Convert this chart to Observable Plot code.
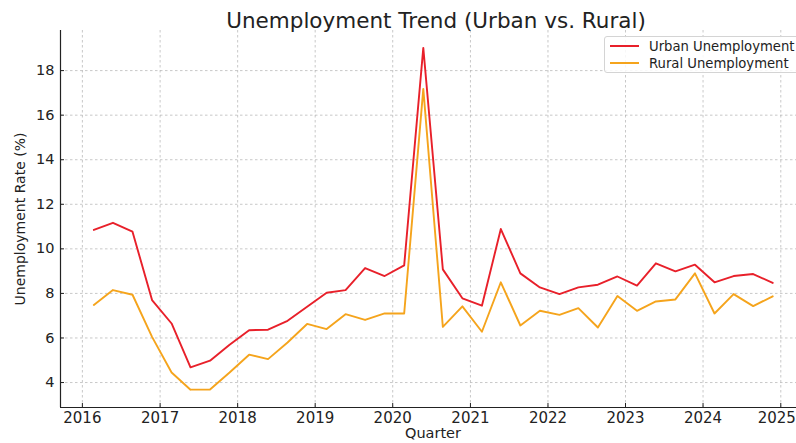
<!DOCTYPE html>
<html><head><meta charset="utf-8">
<script src="https://cdn.jsdelivr.net/npm/d3@7"></script>
<script src="https://cdn.jsdelivr.net/npm/@observablehq/plot@0.6"></script>
<style>
body{margin:0;background:#fff;font-family:"DejaVu Sans",sans-serif;}
#wrap{position:relative;width:796px;height:443px;overflow:hidden;}
#title{position:absolute;left:0;width:872px;top:10px;text-align:center;font-size:21.5px;color:#222;line-height:22px;white-space:nowrap;}
#ylab{position:absolute;left:20px;top:219px;transform:translate(-50%,-50%) rotate(-90deg);font-size:14px;color:#222;white-space:nowrap;}
#xlab{position:absolute;left:0;width:866px;top:424px;text-align:center;font-size:14.5px;color:#222;line-height:18px;}
#legend{position:absolute;left:604px;top:36px;width:210px;height:35px;border:1px solid #d4d4d4;border-radius:3px;background:rgba(255,255,255,0.85);font-size:13.2px;color:#222;}
.li{position:absolute;left:5px;height:16px;display:flex;align-items:center;white-space:nowrap;}
.li span.sw{display:inline-block;width:29px;height:2px;margin-right:10px;}
svg{display:block}
</style></head>
<body>
<div id="wrap">
  <div id="chart"></div>
  <div id="title">Unemployment Trend (Urban vs. Rural)</div>
  <div id="ylab">Unemployment Rate (%)</div>
  <div id="xlab">Quarter</div>
  <div id="legend"></div>
</div>
<script>
const quarters = [
 "2016-Q1","2016-Q2","2016-Q3","2016-Q4",
 "2017-Q1","2017-Q2","2017-Q3","2017-Q4",
 "2018-Q1","2018-Q2","2018-Q3","2018-Q4",
 "2019-Q1","2019-Q2","2019-Q3","2019-Q4",
 "2020-Q1","2020-Q2","2020-Q3","2020-Q4",
 "2021-Q1","2021-Q2","2021-Q3","2021-Q4",
 "2022-Q1","2022-Q2","2022-Q3","2022-Q4",
 "2023-Q1","2023-Q2","2023-Q3","2023-Q4",
 "2024-Q1","2024-Q2","2024-Q3","2024-Q4"
];
const urban = [
 10.85, 11.17, 10.77, 7.70,
 6.65, 4.68, 4.98, 5.70,
 6.35, 6.37, 6.77, 7.40,
 8.03, 8.15, 9.14, 8.78,
 9.26, 19.02, 9.08, 7.78,
 7.45, 10.89, 8.90, 8.27,
 7.97, 8.27, 8.39, 8.76,
 8.35, 9.35, 8.99, 9.29,
 8.50, 8.78, 8.87, 8.47
];
const rural = [
 7.48, 8.15, 7.94, 6.05,
 4.45, 3.68, 3.69, 4.45,
 5.25, 5.05, 5.80, 6.63,
 6.40, 7.07, 6.81, 7.10,
 7.10, 17.18, 6.50, 7.42,
 6.28, 8.50, 6.56, 7.22,
 7.04, 7.34, 6.47, 7.88,
 7.22, 7.64, 7.73, 8.90,
 7.10, 7.97, 7.43, 7.87
];
const seriesNames = ["Urban Unemployment", "Rural Unemployment"];
const seriesColors = ["#e8202a", "#f5a41c"];
const yearTicks = [2016,2017,2018,2019,2020,2021,2022,2023,2024,2025];
const yTicks = [4,6,8,10,12,14,16,18];

function qDate(label){
  const [y, q] = label.split("-Q").map(Number);
  return new Date(Date.UTC(y, (q-1)*3 + 1, 24));
}
const rows = [];
quarters.forEach((q,i)=>{
  rows.push({date: qDate(q), value: urban[i], series: seriesNames[0]});
  rows.push({date: qDate(q), value: rural[i], series: seriesNames[1]});
});
const yearDates = yearTicks.map(y => new Date(Date.UTC(y,0,1)));
const lastYear = yearDates[yearDates.length - 1];
const xDomain = [new Date(Date.UTC(2015,8,20)), new Date(Date.UTC(2025,2,16))];
const yDomain = [2.88, 19.8];
const yearFmt = d3.utcFormat("%Y");

const chart = Plot.plot({
  width: 796, height: 443,
  marginLeft: 60, marginRight: 0, marginTop: 30, marginBottom: 36,
  style: {fontFamily: "DejaVu Sans, sans-serif", fontSize: "15px", color: "#222", background: "#fff"},
  x: {type: "utc", domain: xDomain},
  y: {domain: yDomain},
  color: {domain: seriesNames, range: seriesColors},
  marks: [
    Plot.gridX(yearDates, {stroke: "#b0b0b0", strokeOpacity: 0.7, strokeDasharray: "2.5,2.5"}),
    Plot.gridY(yTicks, {stroke: "#b0b0b0", strokeOpacity: 0.7, strokeDasharray: "2.5,2.5"}),
    Plot.axisX(yearDates, {tickFormat: d => (+d === +lastYear ? "" : yearFmt(d)), tickSize: -4, tickPadding: 8.5, label: null, stroke: "#222"}),
    Plot.axisX([lastYear], {tickFormat: yearFmt, tickSize: 0, tickPadding: 4.5, dx: -4, label: null}),
    Plot.axisY(yTicks, {tickSize: -4, tickPadding: 10, label: null, stroke: "#222", fontSize: 14.5}),
    Plot.line(rows, {x: "date", y: "value", z: "series", stroke: "series", strokeWidth: 1.9}),
    Plot.ruleX([xDomain[0]], {stroke: "#222", strokeWidth: 1.2}),
    Plot.ruleY([yDomain[0]], {stroke: "#222", strokeWidth: 1.2})
  ]
});
document.getElementById("chart").appendChild(chart);

const legend = document.getElementById("legend");
seriesNames.forEach((n,i)=>{
  const d = document.createElement("div");
  d.className = "li";
  d.style.top = (1 + i*17) + "px";
  d.innerHTML = `<span class="sw" style="background:${seriesColors[i]}"></span>${n}`;
  legend.appendChild(d);
});
</script>
</body></html>
